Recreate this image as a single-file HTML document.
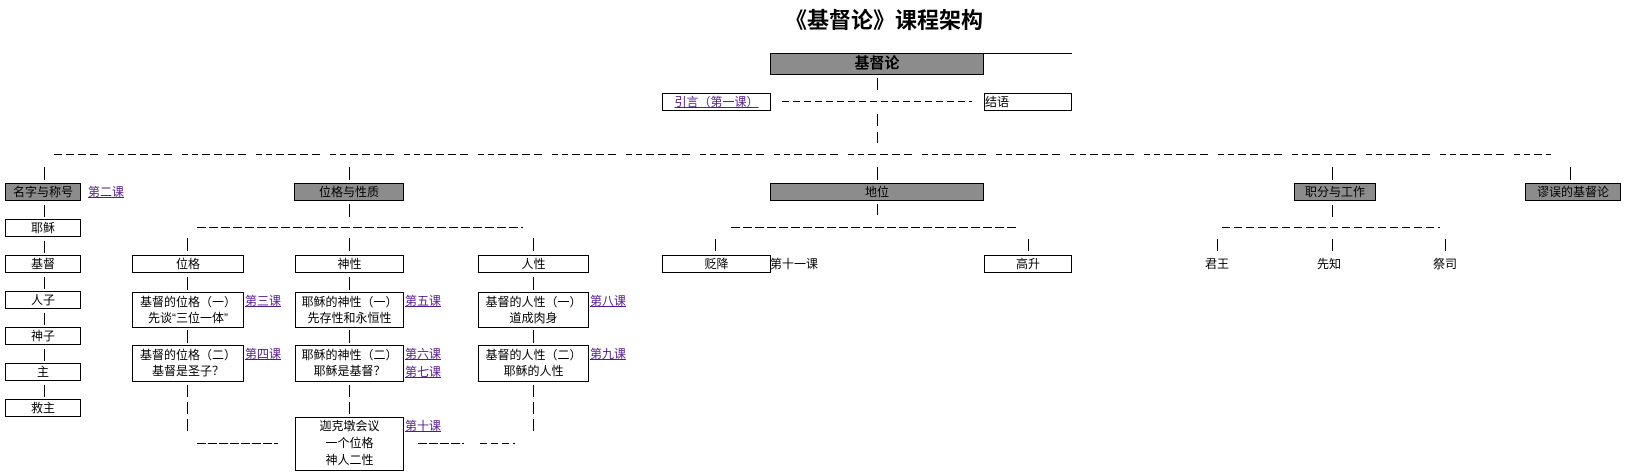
<!DOCTYPE html>
<html><head><meta charset="utf-8"><style>
body{margin:0;width:1629px;height:476px;background:#fff;position:relative;overflow:hidden;font-family:"Liberation Sans","Noto Sans CJK SC","WenQuanYi Zen Hei",sans-serif;font-size:12px;color:#000}
.b{position:absolute;border:1px solid #000;background:#fff;box-sizing:border-box;text-align:center;line-height:16px;white-space:nowrap}
.g{background:#8c8c8c}
.t{position:absolute;white-space:nowrap;line-height:14px}
.l{color:#551a8b;text-decoration:underline}
svg{position:absolute;left:0;top:0}
</style></head><body>
<svg width="1629" height="476" stroke="#000" stroke-width="1" fill="none">
<line x1="984" y1="53.5" x2="1072" y2="53.5"/>
<line x1="877.5" y1="78" x2="877.5" y2="90"/>
<line x1="782" y1="101.5" x2="972" y2="101.5" stroke-dasharray="7,4"/>
<line x1="877.5" y1="114" x2="877.5" y2="143" stroke-dasharray="12,6"/>
<line x1="54" y1="154.5" x2="1551" y2="154.5" stroke-dasharray="8,4,8,4,8,4,8,10,6,4,6,4"/>
<g>
<line x1="44.5" y1="167" x2="44.5" y2="180"/><line x1="349.5" y1="167" x2="349.5" y2="180"/>
<line x1="877.5" y1="167" x2="877.5" y2="180"/><line x1="1332.5" y1="167" x2="1332.5" y2="180"/>
<line x1="1570.5" y1="167" x2="1570.5" y2="180"/>
<line x1="44.5" y1="205" x2="44.5" y2="217"/><line x1="44.5" y1="241" x2="44.5" y2="253"/>
<line x1="44.5" y1="277" x2="44.5" y2="289"/><line x1="44.5" y1="313" x2="44.5" y2="325"/>
<line x1="44.5" y1="349" x2="44.5" y2="361"/><line x1="44.5" y1="385" x2="44.5" y2="397"/>
<line x1="349.5" y1="204" x2="349.5" y2="217"/>
<line x1="877.5" y1="204" x2="877.5" y2="215"/><line x1="1332.5" y1="205" x2="1332.5" y2="217"/>
</g>
<line x1="197" y1="227.5" x2="523" y2="227.5" stroke-dasharray="9,3"/>
<line x1="731" y1="227.5" x2="1018" y2="227.5" stroke-dasharray="9,3"/>
<line x1="1222" y1="227.5" x2="1440" y2="227.5" stroke-dasharray="8,4"/>
<g>
<line x1="187.5" y1="238" x2="187.5" y2="251"/><line x1="349.5" y1="238" x2="349.5" y2="251"/>
<line x1="533.5" y1="238" x2="533.5" y2="251"/>
<line x1="715.5" y1="239" x2="715.5" y2="251"/><line x1="1028.5" y1="239" x2="1028.5" y2="251"/>
<line x1="1217.5" y1="239" x2="1217.5" y2="251"/><line x1="1332.5" y1="239" x2="1332.5" y2="251"/>
<line x1="1445.5" y1="239" x2="1445.5" y2="251"/>
<line x1="187.5" y1="277" x2="187.5" y2="290"/><line x1="349.5" y1="277" x2="349.5" y2="290"/><line x1="533.5" y1="277" x2="533.5" y2="290"/>
<line x1="187.5" y1="330" x2="187.5" y2="343"/><line x1="349.5" y1="330" x2="349.5" y2="343"/><line x1="533.5" y1="330" x2="533.5" y2="343"/>
</g>
<line x1="187.5" y1="385" x2="187.5" y2="435" stroke-dasharray="12,5"/>
<line x1="349.5" y1="385" x2="349.5" y2="415" stroke-dasharray="12,5"/>
<line x1="533.5" y1="385" x2="533.5" y2="432" stroke-dasharray="12,5"/>
<line x1="197" y1="443.5" x2="278" y2="443.5" stroke-dasharray="9,2"/>
<line x1="418" y1="443.5" x2="464" y2="443.5" stroke-dasharray="9,2"/>
<line x1="480" y1="443.5" x2="515" y2="443.5" stroke-dasharray="7,4"/>
</svg>
<div class="t" style="left:785px;top:8px;font-size:22px;font-weight:bold;line-height:26px">《基督论》课程架构</div>
<div class="b g" style="left:770px;top:53px;width:214px;height:22px;font-size:15px;font-weight:bold;line-height:20px">基督论</div>
<div class="b" style="left:662px;top:93px;width:109px;height:18px"><span class="l">引言（第一课）</span></div>
<div class="b" style="left:984px;top:93px;width:88px;height:18px;text-align:left">结语</div>
<div class="b g" style="left:5px;top:183px;width:76px;height:18px">名字与称号</div>
<div class="t l" style="left:88px;top:185px">第二课</div>
<div class="b g" style="left:294px;top:183px;width:110px;height:18px">位格与性质</div>
<div class="b g" style="left:770px;top:183px;width:214px;height:18px">地位</div>
<div class="b g" style="left:1294px;top:183px;width:82px;height:18px">职分与工作</div>
<div class="b g" style="left:1525px;top:183px;width:96px;height:18px">谬误的基督论</div>
<div class="b" style="left:5px;top:219px;width:76px;height:18px">耶稣</div>
<div class="b" style="left:5px;top:255px;width:76px;height:18px">基督</div>
<div class="b" style="left:5px;top:291px;width:76px;height:18px">人子</div>
<div class="b" style="left:5px;top:327px;width:76px;height:18px">神子</div>
<div class="b" style="left:5px;top:363px;width:76px;height:18px">主</div>
<div class="b" style="left:5px;top:399px;width:76px;height:18px">救主</div>
<div class="b" style="left:132px;top:255px;width:112px;height:18px">位格</div>
<div class="b" style="left:295px;top:255px;width:109px;height:18px">神性</div>
<div class="b" style="left:478px;top:255px;width:111px;height:18px">人性</div>
<div class="b" style="left:132px;top:292px;width:112px;height:36px;padding-top:1px">基督的位格（一）<br>先谈“三位一体”</div>
<div class="b" style="left:132px;top:345px;width:112px;height:37px;padding-top:1px">基督的位格（二）<br>基督是圣子？</div>
<div class="b" style="left:295px;top:292px;width:109px;height:36px;padding-top:1px">耶稣的神性（一）<br>先存性和永恒性</div>
<div class="b" style="left:295px;top:345px;width:109px;height:37px;padding-top:1px">耶稣的神性（二）<br>耶稣是基督？</div>
<div class="b" style="left:478px;top:292px;width:111px;height:36px;padding-top:1px">基督的人性（一）<br>道成肉身</div>
<div class="b" style="left:478px;top:345px;width:111px;height:37px;padding-top:1px">基督的人性（二）<br>耶稣的人性</div>
<div class="b" style="left:295px;top:417px;width:109px;height:54px;line-height:17px">迦克墩会议<br>一个位格<br>神人二性</div>
<div class="t l" style="left:245px;top:294px">第三课</div>
<div class="t l" style="left:245px;top:347px">第四课</div>
<div class="t l" style="left:405px;top:294px">第五课</div>
<div class="t l" style="left:405px;top:347px">第六课</div>
<div class="t l" style="left:405px;top:365px">第七课</div>
<div class="t l" style="left:405px;top:419px">第十课</div>
<div class="t l" style="left:590px;top:294px">第八课</div>
<div class="t l" style="left:590px;top:347px">第九课</div>
<div class="b" style="left:662px;top:255px;width:109px;height:18px">贬降</div>
<div class="t" style="left:770px;top:257px">第十一课</div>
<div class="b" style="left:984px;top:255px;width:88px;height:18px">高升</div>
<div class="t" style="left:1205px;top:257px">君王</div>
<div class="t" style="left:1317px;top:257px">先知</div>
<div class="t" style="left:1433px;top:257px">祭司</div>
</body></html>
